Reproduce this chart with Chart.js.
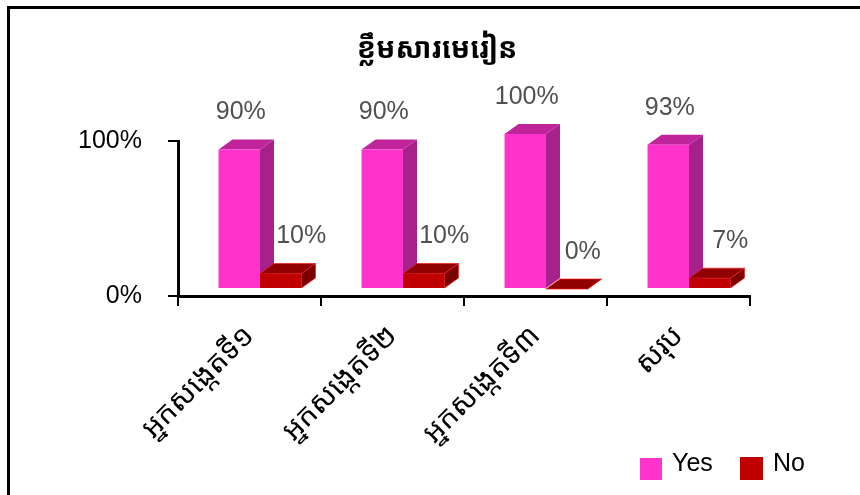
<!DOCTYPE html>
<html><head><meta charset="utf-8">
<style>html,body{margin:0;padding:0;background:#fff}
#frame{position:absolute;left:7px;top:6px;width:860px;height:500px;border-left:3px solid #000;border-top:3px solid #000;box-sizing:border-box;pointer-events:none}
canvas{position:absolute;left:0;top:0}
body{width:860px;height:495px;overflow:hidden;position:relative}</style>
<script src="https://cdn.jsdelivr.net/npm/chart.js@4"></script>
</head><body>
<canvas id="c" width="860" height="495"></canvas>
<div id="frame"></div>
<script>
const titleText = "ខ្លឹមសារមេរៀន";
const categories = ["អ្នកសង្កេតទី១","អ្នកសង្កេតទី២","អ្នកសង្កេតទី៣","សរុប"];
const yesValues = [90,90,100,93];
const noValues = [10,10,0,7];
const yTicks = [0,100];

const LATIN = '"Liberation Sans", Arial, sans-serif';
const KHMER = '"Khmer OS","Noto Sans Khmer","Noto Sans","DejaVu Sans",sans-serif';
const depthX = 14, depthY = 10, shiftX = 10.5, shiftY = -7;
const faces = {
  0:{top:'#C0249B',side:'#A6218A',edge:'#FF66DD'},
  1:{top:'#900000',side:'#7A0000',edge:'#F02020'}
};
const legendPos = [{box:[640,458,22,22],text:[672,464]},{box:[740,457,23,23],text:[773,464]}];
const poly = (ctx,pts,fill,edge)=>{ctx.beginPath();pts.forEach((p,i)=>i?ctx.lineTo(p[0],p[1]):ctx.moveTo(p[0],p[1]));ctx.closePath();ctx.fillStyle=fill;ctx.fill();if(edge){ctx.strokeStyle=edge;ctx.lineWidth=0.7;ctx.stroke();}};

const bar3d = {
  id:'bar3d',
  beforeDatasetsDraw(chart){
    const ctx=chart.ctx;
    // Yes first, No on top of it: the side faces go under the front faces of each series.
    [0,1].forEach(i=>{
      const meta=chart.getDatasetMeta(i), f=faces[i];
      ctx.save();ctx.translate(shiftX,shiftY);
      meta.data.forEach(b=>{
        const l=b.x-b.width/2,r=b.x+b.width/2,t=b.y,bt=b.base;
        poly(ctx,[[r,t],[r+depthX,t-depthY],[r+depthX,bt-depthY],[r,bt]],f.side,i?f.edge:null);
        poly(ctx,[[l,t],[l+depthX,t-depthY],[r+depthX,t-depthY],[r,t]],f.top,i?f.edge:null);
      });
      meta.controller.draw();
      ctx.restore();
    });
    ctx.save();ctx.font='25px '+LATIN;ctx.fillStyle='#505050';ctx.textAlign='center';ctx.textBaseline='middle';
    chart.data.datasets.forEach((ds,i)=>{
      chart.getDatasetMeta(i).data.forEach((b,j)=>{
        const dx=i?(ds.data[j]===0?16:20.5):1.5;
        ctx.fillText(ds.data[j]+'%',b.x+shiftX+dx,b.y+shiftY-37);
      });
    });
    ctx.textAlign='left';
    chart.data.datasets.forEach((ds,i)=>{
      const p=legendPos[i];
      ctx.fillStyle=ds.backgroundColor;ctx.fillRect(...p.box);
      ctx.fillStyle='#000';ctx.fillText(ds.label,...p.text);
    });
    ctx.restore();
    return false;
  },
  afterLayout(chart){
    const tb=chart.titleBlock;
    tb.left=0;tb.right=874;
  }
};

new Chart(document.getElementById('c'),{
  type:'bar',
  data:{labels:categories,datasets:[
    {label:'Yes',data:yesValues,backgroundColor:'#FF33CC',categoryPercentage:0.58,barPercentage:1},
    {label:'No',data:noValues,backgroundColor:'#C00000',categoryPercentage:0.58,barPercentage:1}
  ]},
  options:{
    responsive:false,animation:false,
    layout:{padding:{left:0,right:110,top:0,bottom:0}},
    plugins:{
      title:{display:true,text:titleText,color:'#000',font:{family:KHMER,size:28.5,weight:'bold',lineHeight:1.2},padding:{top:33,bottom:73.8}},
      legend:{display:false},
      tooltip:{enabled:false}
    },
    scales:{
      x:{
        afterFit(s){s.height=199;},
        grid:{drawOnChartArea:false,color:'#000',tickColor:'#000',tickWidth:2,tickLength:10,lineWidth:2},
        border:{color:'#000',width:3},
        ticks:{color:'#000',maxRotation:45,minRotation:45,autoSkip:false,padding:13,font:{family:KHMER,size:29}}
      },
      y:{
        min:0,max:100,
        afterFit(s){s.width=178;},
        afterBuildTicks(s){s.ticks=yTicks.map(v=>({value:v}));},
        grid:{drawOnChartArea:false,color:'#000',tickColor:'#000',tickWidth:2,tickLength:10,lineWidth:2},
        border:{color:'#000',width:3},
        ticks:{color:'#000',padding:26,font:{family:LATIN,size:25},callback:v=>v+'%'}
      }
    }
  },
  plugins:[bar3d]
});
</script></body></html>
